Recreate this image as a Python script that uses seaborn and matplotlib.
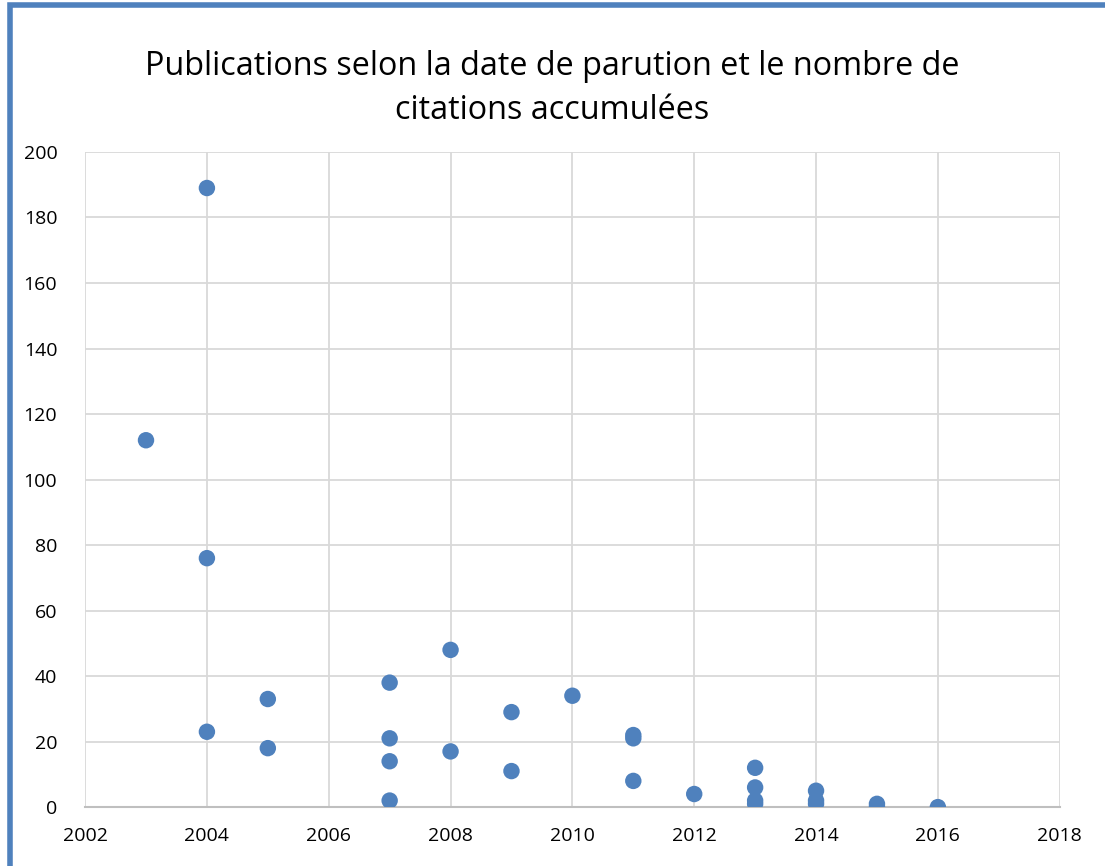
import seaborn as sns
import matplotlib.pyplot as plt
import pandas as pd
from matplotlib.patches import Rectangle

# year of publication and number of accumulated citations
years = [2003, 2004, 2004, 2004, 2005, 2005,
         2007, 2007, 2007, 2007, 2008, 2008,
         2009, 2009, 2010, 2011, 2011, 2011, 2012,
         2013, 2013, 2013, 2013, 2014, 2014, 2014,
         2015, 2015, 2016]
citations = [112, 189, 76, 23, 33, 18,
             38, 21, 14, 2, 48, 17,
             29, 11, 34, 22, 21, 8, 4,
             12, 6, 2, 1, 5, 2, 1,
             1, 0, 0]

df = pd.DataFrame({"annee": years, "citations": citations})

sns.set_style("white")
plt.rcParams['font.family'] = ['Open Sans', 'DejaVu Sans']

fig = plt.figure(figsize=(11.05, 8.66), dpi=100)
ax = fig.add_axes([0.077, 0.068, 0.882, 0.7565])

sns.scatterplot(data=df, x="annee", y="citations", color="#4F81BD",
                s=140, edgecolor="none", ax=ax, zorder=3)

ax.set_xlim(2002, 2018)
ax.set_ylim(0, 200)
ax.set_xticks(range(2002, 2019, 2))
ax.set_yticks(range(0, 201, 20))
ax.grid(True, color="#D9D9D9", linewidth=1.3)
ax.set_axisbelow(True)
for side in ["top", "right", "left"]:
    ax.spines[side].set_visible(False)
ax.spines["bottom"].set_color("#BFBFBF")
ax.spines["bottom"].set_linewidth(1.5)
ax.tick_params(axis="both", length=0, labelsize=14, colors="#000000")
ax.tick_params(axis="x", pad=14)
ax.tick_params(axis="y", pad=20)
ax.set_xlabel("")
ax.set_ylabel("")

fig.text(0.5, 0.898, "Publications selon la date de parution et le nombre de\ncitations accumulées",
         ha="center", va="center", fontsize=23.3, linespacing=1.42, color="#000000")

# blue chart frame
fig.patches.append(Rectangle((0.009, -0.05), 1.1, 1.044, transform=fig.transFigure,
                             fill=False, edgecolor="#4F81BD", linewidth=4, zorder=10))

fig.savefig("out.png", dpi=100)
